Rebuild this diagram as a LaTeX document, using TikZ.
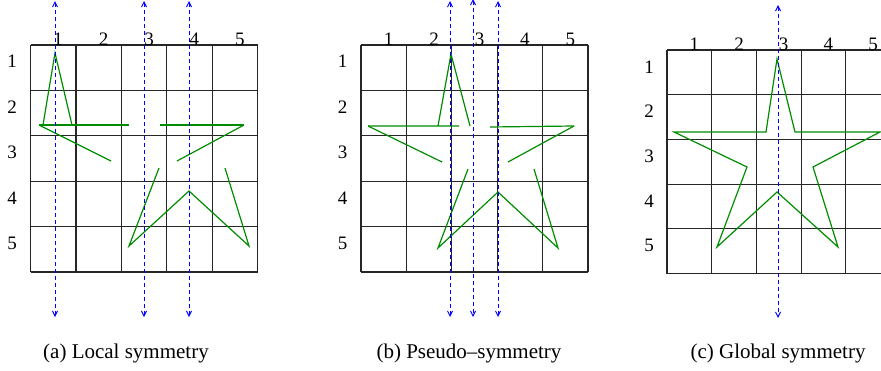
\documentclass[tikz,border=0pt]{standalone}
\usepackage{fontspec}
\setmainfont{Liberation Serif}
\usetikzlibrary{arrows.meta}

\begin{document}
\begin{tikzpicture}[
  x=1pt, y=-1pt,
  cellline/.style={line width=1.2pt, draw=black!85},
  starline/.style={line width=1.2pt, draw=green!55!black},
  symaxis/.style={draw=blue, line width=1pt, dash pattern=on 4pt off 3pt,
    {Straight Barb[length=5pt,width=5pt]}-{Straight Barb[length=5pt,width=5pt]}},
  idx/.style={font=\fontsize{19}{19}\selectfont, inner sep=0pt},
  caption/.style={font=\fontsize{21}{21}\selectfont, inner sep=0pt},
]
\useasboundingbox (0,0) rectangle (881,370);
\clip (0,0) rectangle (881,370);

% (a) local symmetry
\begin{scope}[shift={(30.5,45)}]
  \foreach \k in {0,...,5} {
    \draw[cellline] ({45.4*\k},0) -- ({45.4*\k},227);
    \draw[cellline] (0,{45.4*\k}) -- (227,{45.4*\k});
  }
  \foreach \k in {1,...,5} {
    \node[idx] (ra\k) at (-18.5,{45.4*\k-28.7}) {\k};
    \node[idx, anchor=base] (ca\k) at ({45.4*\k-17.7},0) {\k};
  }
\end{scope}
\draw[starline] (43,125) -- (55,53) -- (72,125);
\draw[starline] (39,125) -- (129,125) (160,125) -- (244,125);
\draw[starline] (39,125) -- (111,161) (244,125) -- (177,161);
\draw[starline] (159,168) -- (129,246) -- (189,191) -- (249,246) -- (225,168);
\coordinate (a1t) at (55,1);   \coordinate (a1b) at (55,317);
\coordinate (a2t) at (144,1);  \coordinate (a2b) at (144,317);
\coordinate (a3t) at (189,1);  \coordinate (a3b) at (189,317);
\draw[symaxis] (a1t) -- (a1b);
\draw[symaxis] (a2t) -- (a2b);
\draw[symaxis] (a3t) -- (a3b);
\node[caption] (capa) at (126,353) {(a) Local symmetry};

% (b) pseudo-symmetry
\begin{scope}[shift={(361,45)}]
  \foreach \k in {0,...,5} {
    \draw[cellline] ({45.4*\k},0) -- ({45.4*\k},227);
    \draw[cellline] (0,{45.4*\k}) -- (227,{45.4*\k});
  }
  \foreach \k in {1,...,5} {
    \node[idx] (rb\k) at (-18.5,{45.4*\k-28.7}) {\k};
    \node[idx, anchor=base] (cb\k) at ({45.4*\k-17.7},0) {\k};
  }
\end{scope}
\draw[starline] (438,126) -- (451,54) -- (470,126);
\draw[starline] (368,126) -- (459,126) (490,127) -- (574,126);
\draw[starline] (368,126) -- (442,162) (574,126) -- (508,162);
\draw[starline] (468,169) -- (438,248) -- (498,192) -- (558,248) -- (534,169);
\coordinate (b1t) at (450,1);  \coordinate (b1b) at (450,317);
\coordinate (b2t) at (473,-1); \coordinate (b2b) at (473,317);
\coordinate (b3t) at (498,1);  \coordinate (b3b) at (498,317);
\draw[symaxis] (b1t) -- (b1b);
\draw[symaxis] (b2t) -- (b2b);
\draw[symaxis] (b3t) -- (b3b);
\node[caption] (capb) at (469,353) {(b) Pseudo--symmetry};

% (c) global symmetry
\begin{scope}[shift={(667,50)}]
  \foreach \k in {0,...,5} {
    \draw[cellline] ({44.7*\k},0) -- ({44.7*\k},223.5);
    \draw[cellline] (0,{44.7*\k}) -- (223.5,{44.7*\k});
  }
  \foreach \k in {1,...,5} {
    \node[idx] (rc\k) at (-18,{44.7*\k-27.9}) {\k};
    \node[idx, anchor=base] (cc\k) at ({44.7*\k-17.4},0) {\k};
  }
\end{scope}
\draw[starline] (777,59) -- (795,132) -- (880,132) -- (813,167) -- (838,247)
  -- (777,192) -- (717,247) -- (747,167) -- (674,132) -- (766,132) -- cycle;
\coordinate (c1t) at (778,5);  \coordinate (c1b) at (778,318);
\draw[symaxis] (c1t) -- (c1b);
\node[caption] (capc) at (778,353) {(c) Global symmetry};
\end{tikzpicture}
\end{document}
